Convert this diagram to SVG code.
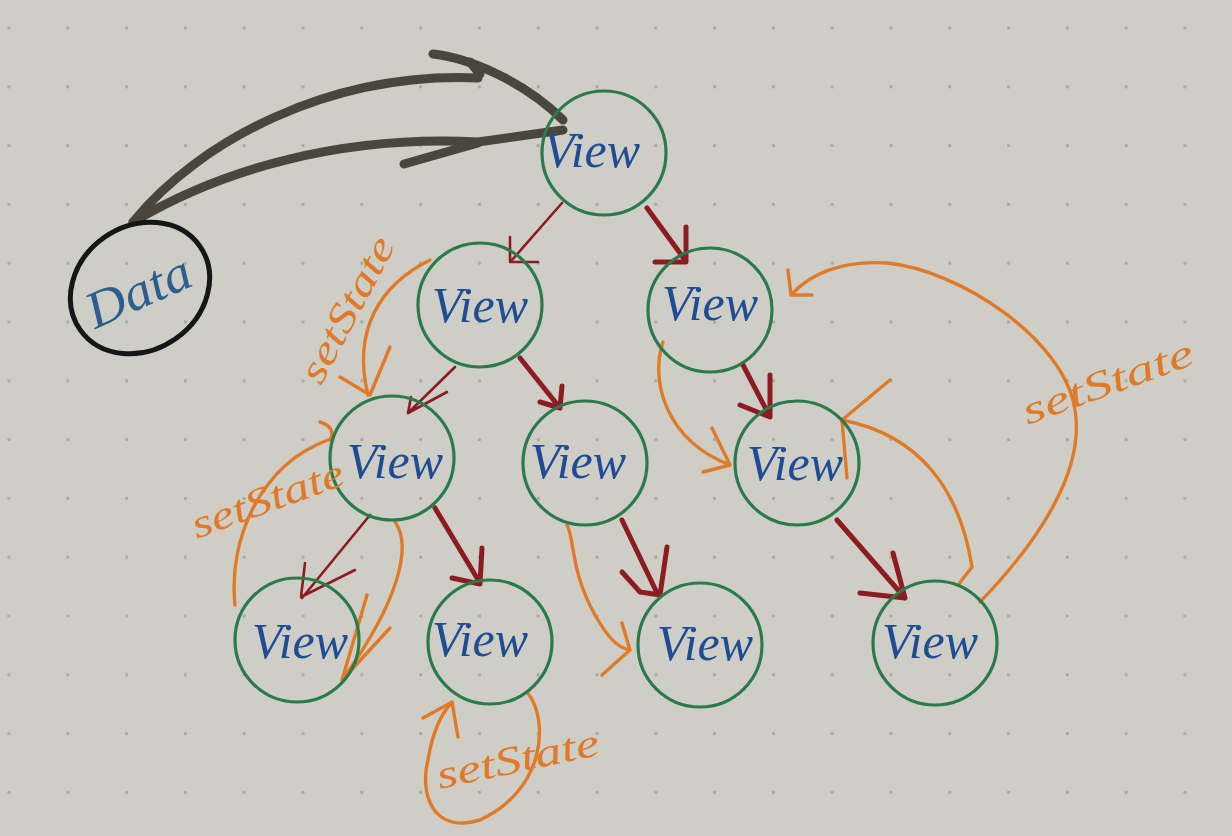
<svg xmlns="http://www.w3.org/2000/svg" width="1232" height="836" viewBox="0 0 1232 836">
<defs>
<pattern id="dots" patternUnits="userSpaceOnUse" x="-20.4" y="-1.4" width="58.8" height="58.8">
<circle cx="29.4" cy="29.4" r="1.7" fill="#a9a9a2"/>
</pattern>
</defs>
<style>
.node{fill:none;stroke:#2a7a4c;stroke-width:3.2}
.lbl{font-family:"Liberation Serif",serif;font-style:italic;font-size:50px;fill:#1f4c92;text-anchor:middle}
.dark{fill:none;stroke:#4a463e;stroke-width:9;stroke-linecap:round;stroke-linejoin:round}
.red{fill:none;stroke:#8c1c22;stroke-width:5;stroke-linecap:round;stroke-linejoin:round}
.redt{fill:none;stroke:#8c1c22;stroke-width:2.6;stroke-linecap:round;stroke-linejoin:round}
.or{fill:none;stroke:#e07a28;stroke-width:3.4;stroke-linecap:round;stroke-linejoin:round}
.ss{font-family:"Liberation Serif",serif;font-style:italic;font-size:40px;fill:#e07a28;text-anchor:middle}
</style>
<rect width="1232" height="836" fill="#cecec6"/>
<rect width="1232" height="836" fill="url(#dots)"/>

<g id="connectors">
<!-- Data to top View -->
<path class="dark" d="M133,222 C200,140 330,72 478,78"/>
<path class="dark" d="M433,54 C470,58 525,82 563,120"/>
<path class="dark" d="M470,62 L480,74"/>
<path class="dark" d="M133,222 C220,170 340,135 478,142 L563,130"/>
<path class="dark" d="M404,164 L478,143"/>
<!-- red tree arrows -->
<path class="redt" d="M562,203 L512,260 M510,237 L510,262 L538,262"/>
<path class="red" d="M647,208 L685,260 M686,227 L686,262 L655,262"/>
<path class="redt" d="M455,367 L408,413 M408,413 L447,392 M408,413 L411,397"/>
<path class="red" d="M520,358 L560,408 M540,402 L560,408 L562,386"/>
<path class="red" d="M743,365 L770,417 M770,375 L770,417 L740,405"/>
<path class="redt" d="M370,515 L302,598 M305,563 L301,597 L355,570"/>
<path class="red" d="M435,508 L480,583 M452,578 L480,584 L482,548"/>
<path class="red" d="M622,520 L658,595 M667,547 L660,595 L640,592 L622,572"/>
<path class="red" d="M837,520 L905,598 M893,553 L905,598 L860,593"/>
<!-- orange setState arrows -->
<path class="or" d="M430,260 C380,285 352,330 368,395 M390,347 L370,395 L340,377"/>
<path class="or" d="M235,605 C228,540 260,465 328,440 M320,422 C330,425 335,432 330,440"/>
<path class="or" d="M395,522 C412,545 400,600 342,680 M367,595 L342,680 L390,628"/>
<path class="or" d="M527,692 C550,720 545,790 480,820 C430,835 420,790 428,760 C432,735 440,715 452,702 M423,718 L452,702 L458,737"/>
<path class="or" d="M663,342 C650,380 665,440 730,465 M712,428 L730,465 L703,472"/>
<path class="or" d="M567,525 C575,540 570,570 595,615 C608,638 618,648 630,650 M622,623 L630,650 L602,675"/>
<path class="or" d="M958,585 L972,567 C960,490 920,435 842,420 M890,380 L842,420 L847,478"/>
<path class="or" d="M980,602 C1040,540 1085,470 1075,410 C1065,340 960,270 887,263 C840,260 810,275 793,293 M788,270 L791,295 L812,295"/>
</g>

<g id="data">
<ellipse cx="140" cy="288" rx="73" ry="62" transform="rotate(-35 140 288)" fill="none" stroke="#161616" stroke-width="5"/>
<text x="140" y="308" transform="rotate(-24 140 295)" font-family="Liberation Serif,serif" font-style="italic" font-size="52" fill="#2c5f8f" text-anchor="middle" textLength="110" lengthAdjust="spacingAndGlyphs">Data</text>
</g>

<g id="view-top"><circle class="node" cx="604" cy="153" r="62"/><text class="lbl" x="592" y="167">View</text></g>
<g id="view-l2a"><circle class="node" cx="480" cy="305" r="62"/><text class="lbl" x="480" y="322">View</text></g>
<g id="view-l2b"><circle class="node" cx="710" cy="310" r="62"/><text class="lbl" x="710" y="320">View</text></g>
<g id="view-l3a"><circle class="node" cx="392" cy="458" r="62"/><text class="lbl" x="395" y="478">View</text></g>
<g id="view-l3b"><circle class="node" cx="585" cy="463" r="62"/><text class="lbl" x="578" y="478">View</text></g>
<g id="view-l3c"><circle class="node" cx="797" cy="463" r="62"/><text class="lbl" x="795" y="480">View</text></g>
<g id="view-l4a"><circle class="node" cx="297" cy="640" r="62"/><text class="lbl" x="300" y="658">View</text></g>
<g id="view-l4b"><circle class="node" cx="490" cy="642" r="62"/><text class="lbl" x="480" y="656">View</text></g>
<g id="view-l4c"><circle class="node" cx="700" cy="645" r="62"/><text class="lbl" x="705" y="660">View</text></g>
<g id="view-l4d"><circle class="node" cx="935" cy="643" r="62"/><text class="lbl" x="930" y="658">View</text></g>

<g id="labels">
<text class="ss" x="348" y="322" transform="rotate(-62 348 310)" textLength="160" lengthAdjust="spacingAndGlyphs">setState</text>
<text class="ss" x="268" y="512" transform="rotate(-20 268 500)" textLength="160" lengthAdjust="spacingAndGlyphs">setState</text>
<text class="ss" x="518" y="772" transform="rotate(-12 518 760)" textLength="165" lengthAdjust="spacingAndGlyphs">setState</text>
<text class="ss" x="1108" y="395" transform="rotate(-20 1108 383)" textLength="180" lengthAdjust="spacingAndGlyphs">setState</text>
</g>
</svg>
